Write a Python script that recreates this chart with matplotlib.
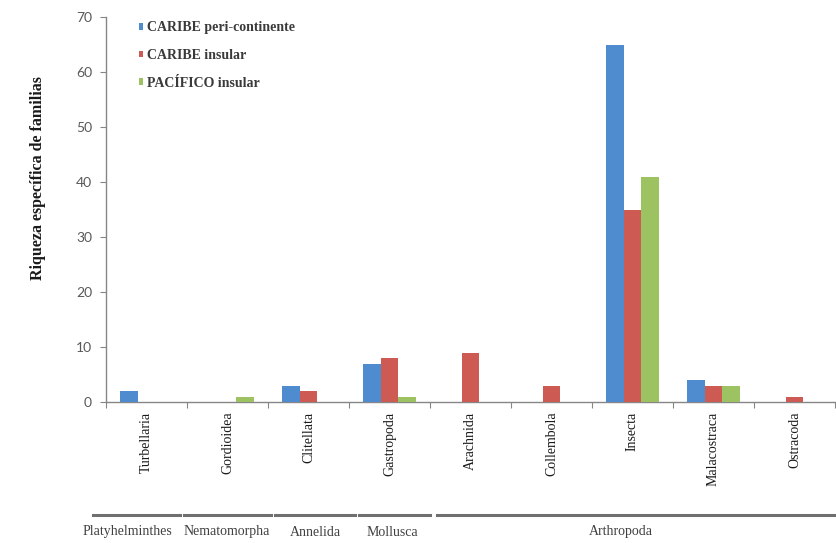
import matplotlib
matplotlib.use("Agg")
import matplotlib.pyplot as plt
import matplotlib.transforms as mtransforms
import numpy as np

# Families per taxon for each region
categories = ["Turbellaria", "Gordioidea", "Clitellata", "Gastropoda", "Arachnida",
              "Collembola", "Insecta", "Malacostraca", "Ostracoda"]
caribe_peri = [2, 0, 3, 7, 0, 0, 65, 4, 0]
caribe_insular = [0, 0, 2, 8, 9, 3, 35, 3, 1]
pacifico_insular = [0, 1, 0, 1, 0, 0, 41, 3, 0]
series_names = ["CARIBE peri-continente", "CARIBE insular", "PACÍFICO insular"]
yticks = [0, 10, 20, 30, 40, 50, 60, 70]

# Phylum groups (label, line span in category units, label centre)
phyla = ["Platyhelminthes", "Nematomorpha", "Annelida", "Mollusca", "Arthropoda"]
phylum_spans = [(-0.66, 0.41), (0.46, 1.54), (1.59, 2.57), (2.62, 3.50), (3.59, 8.49)]
phylum_label_x = [-0.23, 0.99, 2.08, 3.03, 5.86]

colors = ["#4E8CCF", "#CD5B53", "#9DC262"]
serif = "Liberation Serif"
sans = "Lato"

fig = plt.figure(figsize=(8.37, 5.43), dpi=100)
ax = fig.add_axes([106 / 837, 141 / 543, 729 / 837, 385 / 543])

x = np.arange(len(categories))
w = 0.222
for k, vals in enumerate([caribe_peri, caribe_insular, pacifico_insular]):
    ax.bar(x + (k - 1) * w, vals, width=w, color=colors[k], label=series_names[k],
           zorder=3, linewidth=0)

ax.set_xlim(-0.5, len(categories) - 0.5)
ax.set_ylim(0, 70)
ax.set_yticks(yticks)
ax.set_yticklabels([str(t) for t in yticks], fontfamily=sans, fontsize=10, color="#595959")

# category labels centred, tick marks at category boundaries
ax.set_xticks(x)
ax.set_xticklabels(categories, rotation=90, fontfamily=serif, fontsize=10, color="#1a1a1a",
                   va="top")
ax.tick_params(axis="x", which="major", length=0, pad=7)
ax.set_xticks(np.arange(-0.5, len(categories) + 0.5, 1), minor=True)
ax.tick_params(axis="x", which="minor", length=4, width=0.8, color="#868686", direction="out")
ax.tick_params(axis="y", length=4, width=0.8, color="#868686", direction="out", pad=6)

for side in ["top", "right"]:
    ax.spines[side].set_visible(False)
for side in ["left", "bottom"]:
    ax.spines[side].set_color("#868686")
    ax.spines[side].set_linewidth(1.0)

fig.text(38 / 837, 1 - 178 / 543, "Riqueza específica de familias", rotation=90,
         fontfamily=serif, fontweight="bold", fontsize=11.5, color="#1a1a1a",
         ha="center", va="center")

leg = ax.legend(loc="upper left", bbox_to_anchor=(0.037, 1.003), frameon=False,
                prop={"family": serif, "weight": "bold", "size": 10},
                handlelength=0.35, handleheight=0.35, handletextpad=0.25,
                labelspacing=1.05, borderaxespad=0)
for t in leg.get_texts():
    t.set_color("#3a3a3a")

# phylum brackets beneath the category labels
trans = mtransforms.blended_transform_factory(ax.transData, fig.transFigure)
line_y = 1 - 515 / 543
text_y = 1 - 532 / 543
for name, (x0, x1), lx in zip(phyla, phylum_spans, phylum_label_x):
    fig.add_artist(plt.Line2D([x0, x1], [line_y, line_y], transform=trans,
                              color="#6f6f6f", linewidth=2.2))
    fig.text(lx, text_y, name, transform=trans, ha="center", va="center",
             fontfamily=serif, fontsize=10, color="#404040")

fig.savefig("out.png", dpi=100, facecolor="white")
